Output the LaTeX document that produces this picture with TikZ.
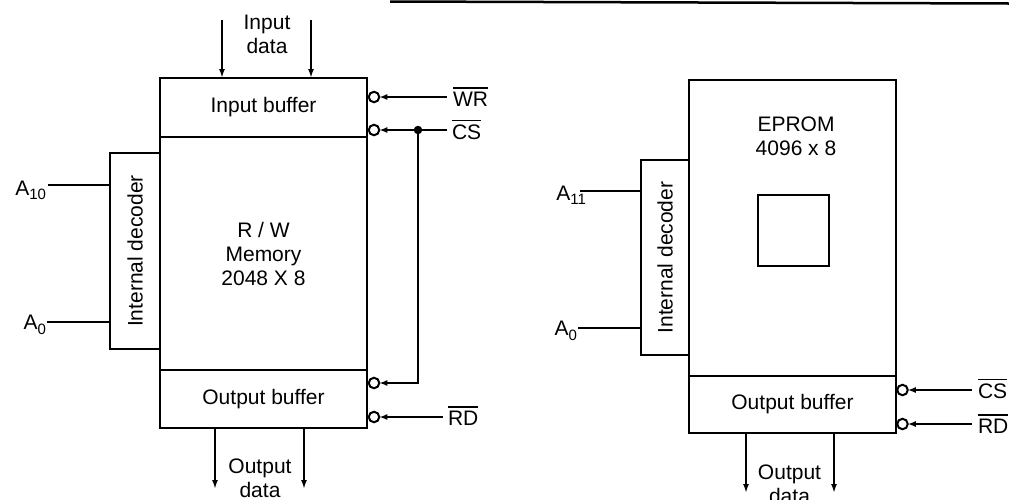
\documentclass[tikz,border=0pt]{standalone}
\usepackage{fontspec}
\setmainfont{Liberation Sans}
\usetikzlibrary{arrows.meta,calc}
\newcommand{\ovl}[1]{\leavevmode\vbox{\hrule height 1.4pt\kern 3pt\hbox{#1}}}
\newcommand{\subx}[1]{\raisebox{-0.45ex}{\fontsize{15}{15}\selectfont #1}}
\begin{document}
\begin{tikzpicture}[x=1pt,y=-1pt,
  every node/.style={font=\fontsize{21}{24}\selectfont, inner sep=0pt, outer sep=0pt},
  blk/.style={draw, line width=2.8pt, minimum width=207pt, align=center},
  decbox/.style={draw, line width=2.8pt},
  bub/.style={circle, draw, line width=2pt, minimum size=10.5pt, fill=white},
  wire/.style={line width=1.6pt},
  arr/.style={wire, -{Latex[length=8pt,width=6pt]}},
  darr/.style={line width=1.9pt, -{Latex[length=9pt,width=6pt]}},
  jdot/.style={circle, fill, minimum size=8.5pt},
  txt/.style={align=center}
]
\useasboundingbox (0,0) rectangle (1009,499);
% scan edge at top
\draw[line width=2.5pt] (390,1.5) -- (1009,3.5);

% ---------------- Left: R/W memory ----------------
\node[blk, minimum height=59pt] (ib) at (263.5,107.5) {Input buffer};
\node[blk, minimum height=233pt] (mem) at (263.5,253.5) {R / W\\Memory\\2048 X 8};
\node[blk, minimum height=58pt] (ob) at (263.5,399) {Output buffer};
\node[decbox, minimum width=50pt, minimum height=196pt] (decL) at (135,251) {\rotatebox{90}{Internal decoder}};

% input data
\node[txt] (idtxt) at (267,34) {Input\\data};
\coordinate (id1) at (222,20);
\coordinate (id2) at (311,20);
\draw[darr] (id1) -- (id1 |- ib.north);
\draw[darr] (id2) -- (id2 |- ib.north);

% output data
\node[txt] (odtxt) at (260,478) {Output\\data};
\coordinate (od1) at (215,489);
\coordinate (od2) at (304,489);
\draw[darr] (od1 |- ob.south) -- (od1);
\draw[darr] (od2 |- ob.south) -- (od2);

% address lines
\node[anchor=base east] (a10) at (46,195) {A\subx{10}};
\node[anchor=base east] (a0L) at (46,329) {A\subx{0}};
\coordinate (a10p) at (48,185);
\coordinate (a0Lp) at (47,322);
\draw[wire] (a10p) -- (a10p -| decL.west);
\draw[wire] (a0Lp) -- (a0Lp -| decL.west);

% control inputs
\node[bub] (bwr) at (374,97) {};
\node[bub] (bcs) at (374,130) {};
\node[bub] (bcs2) at (374,383) {};
\node[bub] (brd) at (374,417) {};
\node[anchor=base west] (lwr) at (453,106) {\ovl{WR}};
\node[anchor=base west] (lcs) at (452,139) {\ovl{CS}};
\node[anchor=base west] (lrd) at (448,425) {\ovl{RD}};
\coordinate (wrin) at (447,97);
\coordinate (csin) at (447,130);
\coordinate (rdin) at (443,417);
\node[jdot] (csdot) at (418,130) {};
\draw[arr] (wrin) -- (bwr);
\draw[wire] (csin) -- (csdot.center);
\draw[arr] (csdot) -- (bcs);
\draw[arr] (csdot.center) |- (bcs2);
\draw[arr] (rdin) -- (brd);

% ---------------- Right: EPROM ----------------
\node[blk, minimum height=296pt] (ep) at (792.5,228) {};
\node[txt] (eptxt) at (796,136.5) {EPROM\\4096 x 8};
\node[draw, line width=2pt, minimum size=71pt] (cell) at (793.5,230.5) {};
\node[blk, minimum height=57pt] (obR) at (792.5,404.5) {Output buffer};
\node[decbox, minimum width=48pt, minimum height=195pt] (decR) at (665,257.5) {\rotatebox{90}{Internal decoder}};

% address lines
\node[anchor=base east] (a11) at (586,200) {A\subx{11}};
\node[anchor=base east] (a0R) at (577,335) {A\subx{0}};
\coordinate (a11p) at (580,191);
\coordinate (a0Rp) at (578,328);
\draw[wire] (a11p) -- (a11p -| decR.west);
\draw[wire] (a0Rp) -- (a0Rp -| decR.west);

% control inputs
\node[bub] (bcsR) at (902.5,390) {};
\node[bub] (brdR) at (902.5,424) {};
\node[anchor=base west] (lcsR) at (978,398) {\ovl{CS}};
\node[anchor=base west] (lrdR) at (978,433) {\ovl{RD}};
\coordinate (csRin) at (972,390);
\coordinate (rdRin) at (972,424);
\draw[arr] (csRin) -- (bcsR);
\draw[arr] (rdRin) -- (brdR);

% output data
\node[txt] (odtxtR) at (789.5,484) {Output\\data};
\coordinate (odR1) at (746,493);
\coordinate (odR2) at (834,493);
\draw[darr] (odR1 |- obR.south) -- (odR1);
\draw[darr] (odR2 |- obR.south) -- (odR2);
\end{tikzpicture}
\end{document}
